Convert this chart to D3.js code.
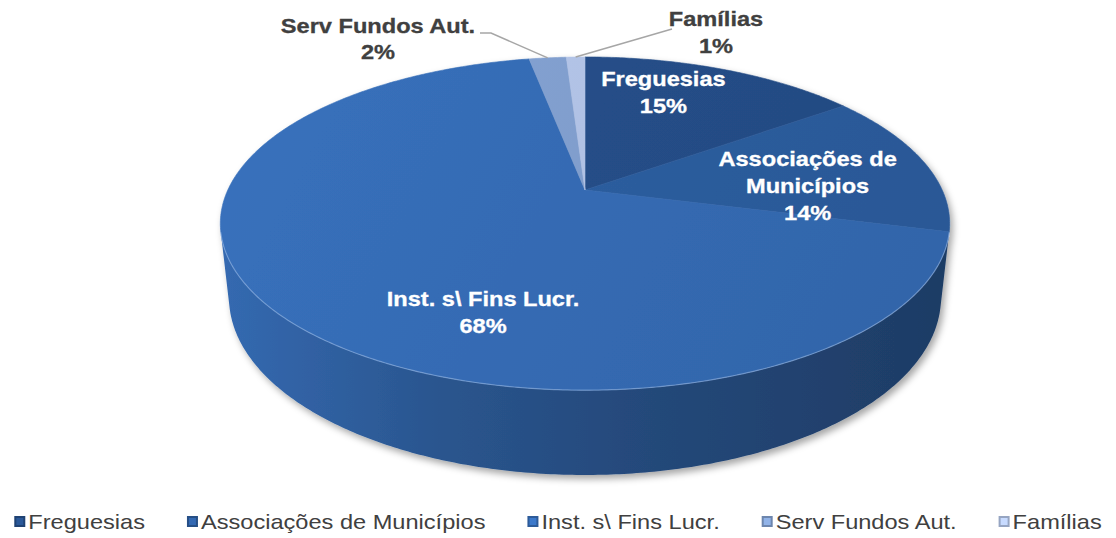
<!DOCTYPE html>
<html>
<head>
<meta charset="utf-8">
<script src="https://cdn.jsdelivr.net/npm/d3@7"></script>
<style>
	html, body { margin: 0; padding: 0; background: #fff; }
	svg { display: block; font-family: "Liberation Sans", Arial, sans-serif; }
</style>
</head>
<body>
<div id="chart"></div>
<script>
(function () {
	'use strict';

	// data
	var categories = ["Freguesias", "Associações de Municípios", "Inst. s\\ Fins Lucr.", "Serv Fundos Aut.", "Famílias"];
	var labelLines = [["Freguesias"], ["Associações de", "Municípios"], ["Inst. s\\ Fins Lucr."], ["Serv Fundos Aut."], ["Famílias"]];
	var shares = [15, 14, 68, 2, 1];
	var pctLabels = ["15%", "14%", "68%", "2%", "1%"];
	var colors = ["#244c85", "#2c5b9b", "#3469b0", "#7e9bc9", "#adbee0"];

	var width = 1116, height = 538;
	var SX = 1.18; // text is a bit stretched in the original

	var svg = d3.select("#chart")
		.append("svg")
		.attr("width", width)
		.attr("height", height);

	var defs = svg.append("defs");

	// perspective projection of the pie disc
	var cx = 585, cy = 190;
	var D = 4.44, F = 1586, H = 0.233;
	var sinP = 0.4475, cosP = Math.sqrt(1 - sinP * sinP);

	function proj(theta, r, y) {
		var x = r * Math.sin(theta), z = -r * Math.cos(theta);
		var depth = D - (y * sinP + z * cosP);
		return [cx + x * F / depth, cy - (y * cosP - z * sinP) * F / depth];
	}

	// angle range where the outer wall faces the camera
	var wallLimit = Math.acos(-1 / (D * cosP));
	var wallStart = wallLimit, wallEnd = 2 * Math.PI - wallLimit;

	var pie = d3.pie().sort(null).value(function(d){ return d; });
	var arcs = pie(shares);

	var line = d3.line();

	function arcPoints(a0, a1, r, y) {
		var n = Math.max(2, Math.ceil(Math.abs(a1 - a0) / 0.01));
		var pts = [];
		for (var i = 0; i <= n; i++) {
			pts.push(proj(a0 + (a1 - a0) * i / n, r, y));
		}
		return pts;
	}

	// gradients
	var wallL = proj(-Math.PI / 2, 1, -H)[0] - 10, wallR = proj(Math.PI / 2, 1, -H)[0] + 10;
	arcs.forEach(function(a, i) {
		var c = d3.color(colors[i]);
		var g = defs.append("linearGradient")
			.attr("id", "wall" + i)
			.attr("gradientUnits", "userSpaceOnUse")
			.attr("x1", wallL).attr("x2", wallR).attr("y1", 0).attr("y2", 0);
		g.append("stop").attr("offset", 0).attr("stop-color", c.darker(0.0));
		g.append("stop").attr("offset", 0.3).attr("stop-color", c.darker(0.6));
		g.append("stop").attr("offset", 0.6).attr("stop-color", c.darker(1.05));
		g.append("stop").attr("offset", 1).attr("stop-color", c.darker(1.55));

		var t = defs.append("linearGradient")
			.attr("id", "top" + i)
			.attr("gradientUnits", "userSpaceOnUse")
			.attr("x1", wallL).attr("x2", wallR * 0.9)
			.attr("y1", proj(0, 1, 0)[1]).attr("y2", proj(Math.PI, 1, 0)[1]);
		t.append("stop").attr("offset", 0).attr("stop-color", c.brighter(0.2));
		t.append("stop").attr("offset", 1).attr("stop-color", c.darker(0.1));
	});

	var shadow = defs.append("filter").attr("id", "shadow")
		.attr("x", "-10%").attr("y", "-10%").attr("width", "120%").attr("height", "130%");
	shadow.append("feDropShadow")
		.attr("dx", 3).attr("dy", 4).attr("stdDeviation", 3.5)
		.attr("flood-color", "#000").attr("flood-opacity", 0.35);

	var pieG = svg.append("g").attr("filter", "url(#shadow)");

	// outer wall
	arcs.forEach(function(a, i) {
		var a0 = Math.max(a.startAngle, wallStart), a1 = Math.min(a.endAngle, wallEnd);
		if (a1 <= a0) return;
		var pts = arcPoints(a0, a1, 1, 0).concat(arcPoints(a1, a0, 1, -H));
		pieG.append("path")
			.attr("d", line(pts) + "Z")
			.attr("fill", "url(#wall" + i + ")");
	});

	// top faces
	arcs.forEach(function(a, i) {
		var pts = [proj(0, 0, 0)].concat(arcPoints(a.startAngle, a.endAngle, 1, 0));
		pieG.append("path")
			.attr("d", line(pts) + "Z")
			.attr("fill", "url(#top" + i + ")")
			.attr("stroke", "url(#top" + i + ")")
			.attr("stroke-width", 0.6);
	});

	// light rim along the front edge
	pieG.append("path")
		.attr("d", line(arcPoints(wallStart, wallEnd, 1, 0)))
		.attr("fill", "none")
		.attr("stroke", "rgba(170,200,240,0.45)")
		.attr("stroke-width", 1.2);

	// data labels
	var labelRadius = 0.65;
	var labelNudge = [[-16, -15], [0, 15], [84, 44], null, null];
	var outsideCenter = [null, null, null, [378, 39], [716, 32.5]];
	var lineH = 27;

	arcs.forEach(function(a, i) {
		var mid = (a.startAngle + a.endAngle) / 2;
		var inside = labelNudge[i] !== null;
		var p;
		if (inside) {
			p = proj(mid, labelRadius, 0);
			p = [p[0] + labelNudge[i][0], p[1] + labelNudge[i][1]];
		} else {
			p = outsideCenter[i];
		}
		var lines = labelLines[i].concat([pctLabels[i]]);
		var lh = inside ? lineH : 26.5;
		var first = p[1] - (lines.length - 1) * lh / 2 + 7;
		lines.forEach(function(s, k) {
			svg.append("text")
				.attr("transform", "translate(" + p[0] + "," + (first + k * lh) + ") scale(" + SX + ",1)")
				.attr("text-anchor", "middle")
				.attr("font-size", "20px")
				.attr("font-weight", "bold")
				.attr("fill", inside ? "#ffffff" : "#404040")
				.attr("stroke", inside ? "#ffffff" : "#404040")
				.attr("stroke-width", 0.3)
				.text(s);
		});
	});

	// leader lines for the small slices
	var leaders = [
		[[480, 33], [491, 33]],
		[[672, 29]]
	];
	[3, 4].forEach(function(idx, k) {
		var a = arcs[idx];
		var start = proj((a.startAngle + a.endAngle) / 2, 1, 0);
		var pts = [start].concat(leaders[k].slice().reverse());
		svg.append("path")
			.attr("d", line(pts))
			.attr("fill", "none")
			.attr("stroke", "#a6a6a6")
			.attr("stroke-width", 1.5);
	});

	// legend
	var legendY = 529, markerSize = 11, markerGap = 3, itemGap = 42;
	var legend = svg.append("g");
	var items = categories.map(function(name, i) {
		var g = legend.append("g");
		var m = g.append("g");
		m.append("rect")
			.attr("width", markerSize).attr("height", markerSize)
			.attr("fill", d3.color(colors[i]).darker(0.4));
		m.append("rect")
			.attr("x", 2).attr("y", 2)
			.attr("width", markerSize - 4).attr("height", markerSize - 4)
			.attr("fill", d3.color(colors[i]).brighter(0.4));
		var t = g.append("text")
			.attr("font-size", "20px")
			.attr("fill", "#404040")
			.attr("transform", "translate(" + (markerSize + markerGap) + ",0) scale(" + SX + ",1)")
			.text(name);
		var w = t.node().getComputedTextLength() * SX;
		return {g: g, m: m, w: markerSize + markerGap + w};
	});
	var total = d3.sum(items, function(d){ return d.w; }) + itemGap * (items.length - 1);
	var x = width / 2 - total / 2;
	items.forEach(function(it) {
		it.g.attr("transform", "translate(" + x + "," + legendY + ")");
		it.m.attr("transform", "translate(0," + (-13) + ")");
		x += it.w + itemGap;
	});
}());
</script>
</body>
</html>
